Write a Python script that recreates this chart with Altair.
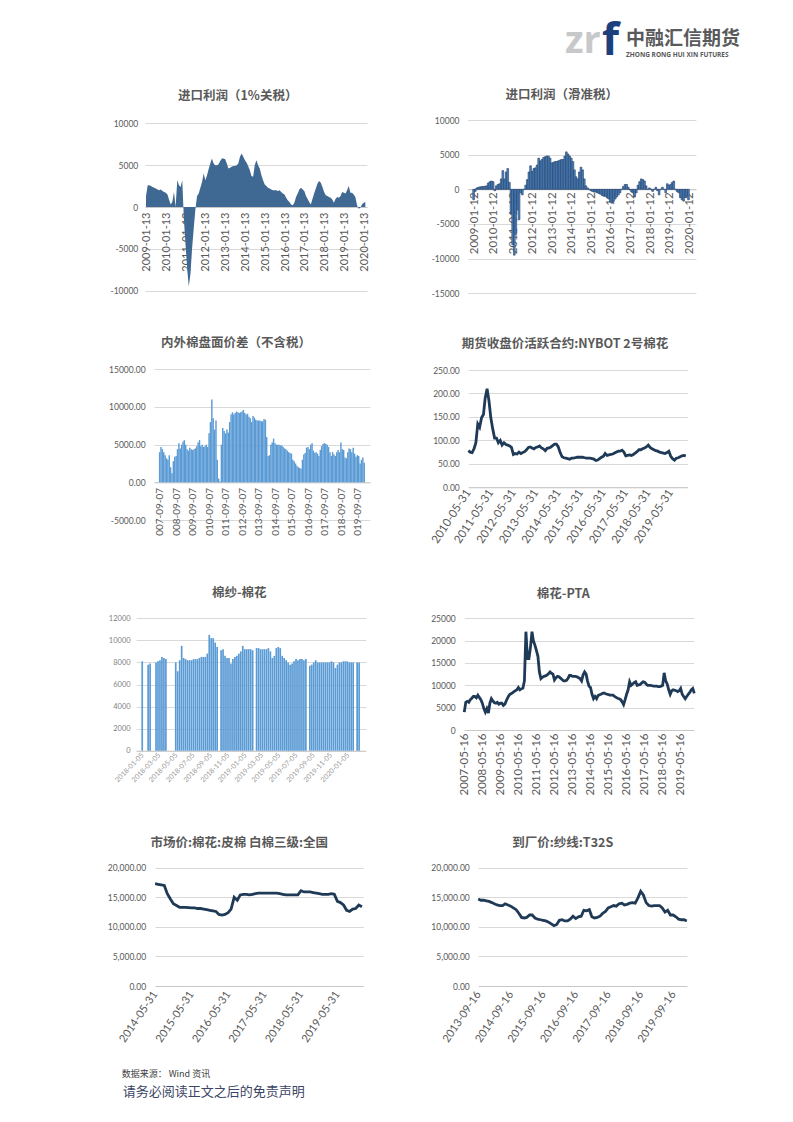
import altair as alt
import pandas as pd

NUM_FONT = "Lato"
CJK_FONT = "Noto Sans CJK SC"
LABEL_COLOR = "#595959"
GRID_COLOR = "#d9d9d9"
TITLE_COLOR = "#595959"

# ---------------- data ----------------
# 进口利润（1%关税）, monthly from 2009-01
P1_VALUES = [1300, 2600, 2600, 2500, 2400, 2300, 2200, 2100, 2000, 2100, 1900, 1800,
             1700, 1500, 900, 300, 600, 1800, 0, 3200, 2600, 2400, 3200, -1500,
             -4500, -7500, -9500, -8000, -5000, -2500, -300, 1300, 1600, 2300, 3000, 4000,
             3200, 3800, 4500, 5200, 5800, 5200, 5000, 5000, 5100, 5500, 5800, 5800,
             5700, 5200, 4600, 4700, 4800, 4900, 4900, 5000, 5200, 6000, 6400, 6000,
             5600, 5300, 4900, 4400, 3700, 3600, 5000, 5600, 5000, 4600, 3800, 3200,
             2700, 2500, 2300, 2200, 2100, 2000, 2000, 2000, 1900, 2000, 1800, 1600,
             1500, 1100, 800, 600, 300, 200, 500, 1200, 1600, 2100, 2300, 2100,
             1900, 1300, 1000, 600, 300, 1000, 1600, 2200, 2800, 3100, 2900, 2400,
             1800, 1400, 1300, 1200, 1100, 900, 500, 1000, 1200, 1100, 1300, 1800,
             1700, 1600, 2000, 2500, 1700, 1700, 1500, 1200, 200, -200, -100, 300,
             500, 600]
# 进口利润（滑准税）, monthly from 2009-01
P2_VALUES = [-1500, -300, 200, 300, 350, 400, 400, 450, 500, 900, 1100, 1200,
             1100, -200, 500, 700, 800, 1500, 2700, 1500, 2500, 3000, 1000, -3500,
             -8000, -9500, -6500, -3000, -4400, -500, -800, 0, 600, 1400, 2500, 3400,
             2600, 3000, 3100, 3500, 4500, 4100, 4300, 4600, 4700, 4800, 4800, 4500,
             3800, 3900, 4000, 4000, 4100, 4200, 4300, 4300, 4800, 5400, 5100, 4800,
             4500, 4000, 2800, 1800, 1500, 2500, 3200, 2800, 1500, 500, 200, 0,
             -200, -300, -400, -400, -500, -600, -700, -900, -1000, -1000, -1200, -1400,
             -1800, -2000, -1700, -1400, -1100, -800, -500, 0, 400, 700, 700, 300,
             -100, -400, -500, -1100, -500, 600, 1100, 1500, 1400, 1200, 500, 0,
             200, 0, -300, 0, 300, -200, -800, 0, 300, 0, -500, 800,
             600, 700, 1000, 1200, 0, -300, -500, -1200, -1500, -1700, -1200, -1000,
             -1500]
# 内外棉盘面价差（不含税）, monthly from 2007-09
P3_VALUES = [4000, 4700, 4400, 4000, 3600, 3200, 3000, 3600, 2000, 1200, 2800, 3400,
             3500, 4400, 5200, 4500, 5000, 5400, 5600, 5000, 4400, 4200, 4600, 4400,
             4300, 4400, 4500, 4800, 5300, 5600, 4800, 5000, 4700, 4800, 5000, 4700,
             6500, 8000, 11000, 8500, 7000, 8200, 3000, 500, 100, 5000, 7200, 6800,
             6500, 7000, 6600, 8000, 9000, 9300, 9000, 9200, 9400, 9300, 9200, 9300,
             9400, 9600, 9200, 9000, 9100, 8700, 8500, 8000, 8800, 8600, 8300, 8200,
             8200, 8200, 8100, 8100, 8400, 8300, 6000, 3500, 3600, 5000, 5300, 5800,
             5200, 5000, 5000, 5000, 4900, 4900, 4700, 4500, 4400, 4200, 4000, 3900,
             3800, 3000, 2800, 2500, 2200, 2000, 1900, 1800, 3000, 3700, 3900, 4600,
             4700, 4400, 5000, 5200, 4200, 3900, 4000, 3800, 3500, 4300, 4800, 5100,
             5200, 5100, 5000, 4700, 4000, 3500, 4000, 3700, 3500, 4000, 4300, 4000,
             5300, 4400, 4300, 3300, 3200, 4000, 4500, 4400, 4000, 4600, 3800, 3400,
             3600, 3500, 2500, 3000, 3300, 2600]
# 期货收盘价活跃合约:NYBOT 2号棉花, monthly from 2010-06
P4_VALUES = [78, 75, 74, 82, 95, 135, 128, 148, 155, 190, 210, 185,
             148, 125, 105, 105, 95, 100, 90, 95, 91, 90, 88, 85,
             70, 72, 71, 75, 72, 74, 76, 80, 85, 86, 84, 82,
             85, 86, 88, 84, 82, 78, 83, 84, 86, 89, 92, 92,
             86, 74, 65, 63, 62, 61, 60, 62, 62, 63, 64, 64,
             64, 64, 63, 62, 62, 62, 61, 60, 57, 58, 61, 64,
             66, 72, 68, 69, 70, 71, 73, 75, 77, 77, 79, 75,
             67, 68, 69, 68, 70, 73, 76, 80, 80, 82, 84, 86,
             90, 85, 82, 80, 78, 77, 75, 74, 73, 72, 74, 77,
             66, 61, 58, 62, 63, 65, 67, 68, 67]
# 棉纱-棉花, weekly from 2018-01-05 (None = no data)
P5_VALUES = [8100, None, None, 7800, 7900, None, None, 8000, 8100, 8200, 8500, 8400,
             8300, None, None, None, None, 8000, 7200, 8200, 9500, 8400, 8300, 8200,
             8200, 8200, 8300, 8300, 8300, 8400, 8500, 8500, 8500, 8800, 10500, 10200,
             10200, 9800, 9400, None, 9100, 9200, 8600, 8400, 8400, 7900, 8300, 8500,
             8600, 8800, 9000, 9500, 9200, 9200, 9200, 9200, 9100, None, 9300, 9300,
             9200, 9200, 9200, 9200, 9300, 9000, 8400, 8600, 9300, 9400, 9300, 8600,
             8400, 8200, 8000, 7800, 7900, 8100, 8300, 8200, 8300, 8300, 8200, 8300,
             None, 7700, 7800, 8000, 8200, 8000, 8000, 8000, 8000, 8000, 8000, 8000,
             8100, 8000, 7500, 7800, 8000, 8000, 8100, 8100, 8100, 8000, 8000, 8000,
             None, 8000, 8000]
# 棉花-PTA, monthly from 2007-05-15
P6_VALUES = [4000, 6200, 6400, 6200, 6800, 7100, 7500, 7500, 7200, 7800, 7300, 6800,
             6000, 4800, 4000, 4800, 3800, 6000, 7000, 6500, 6100, 6000, 6200, 5800,
             6000, 6000, 5500, 5800, 6600, 7300, 7900, 8100, 8300, 8600, 8800, 9000,
             9500, 9000, 9200, 9400, 11000, 22000, 16000, 16000, 18500, 22000, 20000, 19000,
             17800, 16500, 13000, 11500, 11800, 12000, 12100, 12300, 12600, 13000, 12700, 12500,
             11200, 11700, 12000, 11900, 11600, 11300, 11000, 11000, 11100, 11600, 12200, 12200,
             12000, 12000, 12000, 11900, 11700, 11500, 11000, 12300, 13000, 12500, 11000, 9800,
             9500, 8000, 7000, 7500, 7000, 7700, 7900, 8000, 8200, 8300, 8100, 8000,
             7900, 7800, 7800, 7800, 7500, 7300, 7100, 7000, 6800, 6300, 5700, 6800,
             8000, 9000, 10800, 10000, 10300, 10600, 10800, 10000, 10100, 10200, 10500, 10800,
             10700, 10300, 10000, 10000, 10000, 9900, 9800, 9800, 9800, 9700, 9700, 9800,
             10000, 12800, 11000, 10300, 9000, 8000, 8800, 9000, 8900, 8800, 8600, 8800,
             9300, 8000, 7500, 7000, 7500, 8000, 8400, 9000, 9300, 8200]
# 市场价:棉花:皮棉 白棉三级:全国, monthly from 2014-06
P7_VALUES = [17300, 17200, 17100, 17000, 15600, 14700, 13900, 13600, 13300, 13300, 13300, 13250,
             13200, 13200, 13100, 13100, 13000, 12900, 12800, 12700, 12600, 12100, 12000, 12100,
             12400, 13000, 15000, 14500, 15400, 15500, 15500, 15400, 15500, 15600, 15700, 15700,
             15700, 15700, 15700, 15700, 15700, 15600, 15500, 15400, 15400, 15400, 15400, 15400,
             16100, 15900, 15900, 15900, 15800, 15700, 15600, 15500, 15500, 15500, 15600, 15500,
             14300, 14100, 13700, 12800, 12600, 13000, 13100, 13700, 13400]
# 到厂价:纱线:T32S, monthly from 2013-09-15
P8_VALUES = [14700, 14500, 14500, 14400, 14300, 14100, 13900, 13700, 13600, 13600, 13900, 13700,
             13500, 13200, 12900, 12300, 11600, 11500, 11600, 12000, 12000, 11500, 11300, 11200,
             11100, 11000, 10800, 10500, 10200, 10400, 11100, 11200, 11000, 11000, 11300, 11800,
             11400, 11700, 11800, 12800, 12700, 12900, 11700, 11500, 11600, 11800, 12300, 12600,
             13200, 13400, 13600, 13500, 13900, 14000, 13700, 13800, 14000, 14100, 14000, 14900,
             16000, 15400, 14100, 13600, 13500, 13600, 13600, 13600, 13200, 12500, 12800, 12000,
             12000, 11700, 11300, 11200, 11200, 11000]

TITLES = ["进口利润（1%关税）", "进口利润（滑准税）", "内外棉盘面价差（不含税）",
          "期货收盘价活跃合约:NYBOT 2号棉花", "棉纱-棉花", "棉花-PTA",
          "市场价:棉花:皮棉 白棉三级:全国", "到厂价:纱线:T32S"]


def monthly(start, n, shift_days=0):
    d = pd.date_range(start, periods=n, freq="MS")
    if shift_days:
        d = d + pd.Timedelta(days=shift_days)
    return d


def DT(y, m, d):
    return alt.DateTime(year=y, month=m, date=d)


def zero_px(dom, rng):
    return rng[0] + (0 - dom[0]) / (dom[1] - dom[0]) * (rng[1] - rng[0])


NEG_D = "(datum.value < 0 ? '-' : '') + format(abs(datum.value), 'd')"
NEG_2F = "(datum.value < 0 ? '-' : '') + format(abs(datum.value), '.2f')"
COMMA_2F = "format(datum.value, ',.2f')"


def xenc(dom, rng, vals, angle, fs, pad, offset, color=LABEL_COLOR, expr=None):
    ax = dict(values=vals, format="%Y-%m-%d", formatType="time", labelAngle=angle,
              labelAlign="right", labelBaseline="middle", labelFontSize=fs,
              labelFont=NUM_FONT, labelColor=color, labelPadding=pad, offset=offset,
              grid=False, domain=True, domainColor="#c8c8c8", domainWidth=1,
              ticks=False, labelOverlap=False, labelFlush=False, title=None)
    if expr:
        ax["labelExpr"] = expr
    return alt.X("date:T", scale=alt.Scale(domain=dom, range=rng, nice=False),
                 axis=alt.Axis(**ax))


def yenc(dom, rng, vals, expr, fs, pad, offset, color=LABEL_COLOR):
    return alt.Y("v:Q", scale=alt.Scale(domain=dom, range=rng, nice=False, zero=False),
                 axis=alt.Axis(values=vals, labelExpr=expr, labelFontSize=fs,
                               labelFont=NUM_FONT, labelColor=color, labelPadding=pad,
                               offset=offset, grid=True, gridColor=GRID_COLOR, gridWidth=1,
                               domain=False, ticks=False, labelOverlap=False, title=None))


def text_layer(text, x, y, size, color, weight="bold", font=CJK_FONT, align="center",
               baseline="middle"):
    df = pd.DataFrame({"t": [text]})
    return alt.Chart(df).mark_text(font=font, fontSize=size, color=color, fontWeight=weight,
                                   align=align, baseline=baseline).encode(
        text="t:N", x=alt.value(x), y=alt.value(y))


CW = 325
H1, H2, H3, H4 = 310, 250, 250, 285
LINE_COLOR = "#1f3a56"

# ---------- panel 1 ----------
df1 = pd.DataFrame({"date": monthly("2009-01-01", len(P1_VALUES)), "v": P1_VALUES})
xd1, xr1 = [DT(2008, 12, 15), DT(2020, 3, 1)], [45.1, 266.9]
yd1, yr1 = [-10000, 10000], [280.7, 113.3]
m1 = alt.Chart(df1).mark_area(color="#3f6893").encode(
    x=xenc(xd1, xr1, [DT(y, 1, 13) for y in range(2009, 2021)], -90, 11, 5,
           zero_px(yd1, yr1) - H1),
    y=yenc(yd1, yr1, [-10000, -5000, 0, 5000, 10000], NEG_D, 8.5, 7.3, -xr1[0]),
    y2=alt.datum(0))
p1 = alt.layer(m1, text_layer(TITLES[0], 137.7, 85.7, 12.5, TITLE_COLOR)).properties(
    width=CW, height=H1)

# ---------- panel 2 ----------
df2 = pd.DataFrame({"date": monthly("2009-01-01", len(P2_VALUES)), "v": P2_VALUES})
xd2, xr2 = [DT(2008, 12, 15), DT(2020, 2, 15)], [42.7, 270.9]
yd2, yr2 = [-15000, 10000], [283.3, 110]
m2 = alt.Chart(df2).mark_bar(size=1.7, color="#4f86c6", stroke="#1f3a5f",
                             strokeWidth=0.6).encode(
    x=xenc(xd2, xr2, [DT(y, 1, 12) for y in range(2009, 2021)], -90, 11.5, 2.5,
           zero_px(yd2, yr2) - H1),
    y=yenc(yd2, yr2, [-15000, -10000, -5000, 0, 5000, 10000], NEG_D, 8.5, 8.7, -xr2[0]),
    y2=alt.datum(0))
p2 = alt.layer(
    m2,
    text_layer(TITLES[1], 136.7, 85, 12.5, TITLE_COLOR),
    text_layer("zr", 140, 43, 38, "#c7c8ca", font="Open Sans", align="left",
               baseline="alphabetic"),
    text_layer("f", 177, 45, 44, "#1c3f7e", font="Open Sans", align="left",
               baseline="alphabetic"),
    text_layer("中融汇信期货", 201, 28.5, 19, "#595a5c", align="left"),
    text_layer("ZHONG RONG HUI XIN FUTURES", 201, 45, 6.5, "#595a5c",
               font="Open Sans", align="left"),
).properties(width=CW, height=H1)

# ---------- panel 3 ----------
df3 = pd.DataFrame({"date": monthly("2007-09-01", len(P3_VALUES)), "v": P3_VALUES})
xd3, xr3 = [DT(2007, 8, 20), DT(2020, 2, 15)], [54.1, 269.9]
yd3, yr3 = [-5000, 15000], [200, 49.3]
m3 = alt.Chart(df3).mark_bar(size=1.45, color="#5b9bd5").encode(
    x=xenc(xd3, xr3, [DT(y, 9, 7) for y in range(2007, 2020)], -90, 10, 5,
           zero_px(yd3, yr3) - H2,
           expr="substring(timeFormat(datum.value, '%Y-%m-%d'), 1)"),
    y=yenc(yd3, yr3, [-5000, 0, 5000, 10000, 15000], NEG_2F, 8.5, 9, -xr3[0]),
    y2=alt.datum(0))
p3 = alt.layer(m3, text_layer(TITLES[2], 136, 23.3, 12.5, TITLE_COLOR)).properties(
    width=CW, height=H2)

# ---------- panel 4 ----------
df4 = pd.DataFrame({"date": monthly("2010-06-01", len(P4_VALUES)), "v": P4_VALUES})
xd4, xr4 = [DT(2010, 5, 31), DT(2020, 3, 1)], [43.3, 262.6]
yd4, yr4 = [0, 250], [167.3, 50]
m4 = alt.Chart(df4).mark_line(color=LINE_COLOR, strokeWidth=2.8).encode(
    x=xenc(xd4, xr4, [DT(y, 5, 31) for y in range(2010, 2020)], -57, 11.5, 3,
           zero_px(yd4, yr4) - H2),
    y=yenc(yd4, yr4, [0, 50, 100, 150, 200, 250], NEG_2F, 8.5, 9, -xr4[0]))
p4 = alt.layer(m4, text_layer(TITLES[3], 140, 24, 12.5, TITLE_COLOR)).properties(
    width=CW, height=H2)

# ---------- panel 5 ----------
df5 = pd.DataFrame({"date": pd.date_range("2018-01-05", periods=len(P5_VALUES), freq="7D"),
                    "v": P5_VALUES})
xd5, xr5 = [DT(2018, 1, 1), DT(2020, 2, 20)], [36.1, 265.8]
yd5, yr5 = [0, 12000], [180.7, 48.3]
p5_ticks = [DT(2018, m, 5) for m in (1, 3, 5, 7, 9, 11)] + \
           [DT(2019, m, 5) for m in (1, 3, 5, 7, 9, 11)] + [DT(2020, 1, 5)]
m5 = alt.Chart(df5).mark_bar(size=1.7, color="#5b9bd5").encode(
    x=xenc(xd5, xr5, p5_ticks, -46, 7, 3, zero_px(yd5, yr5) - H3, color="#9a9a9a"),
    y=yenc(yd5, yr5, [0, 2000, 4000, 6000, 8000, 10000, 12000], NEG_D, 7.5, 6, -xr5[0],
           color="#7f7f7f"),
    y2=alt.datum(0))
p5 = alt.layer(m5, text_layer(TITLES[4], 139.3, 23.3, 12.5, TITLE_COLOR)).properties(
    width=CW, height=H3)

# ---------- panel 6 ----------
df6 = pd.DataFrame({"date": monthly("2007-05-01", len(P6_VALUES), 14), "v": P6_VALUES})
xd6, xr6 = [DT(2007, 5, 16), DT(2020, 2, 1)], [39.3, 268.6]
yd6, yr6 = [0, 25000], [160, 48.3]
m6 = alt.Chart(df6).mark_line(color=LINE_COLOR, strokeWidth=2.8).encode(
    x=xenc(xd6, xr6, [DT(y, 5, 16) for y in range(2007, 2020)], -90, 11.5, 3,
           zero_px(yd6, yr6) - H3),
    y=yenc(yd6, yr6, [0, 5000, 10000, 15000, 20000, 25000], NEG_D, 8.5, 9, -xr6[0]))
p6 = alt.layer(m6, text_layer(TITLES[5], 138.3, 24, 12.5, TITLE_COLOR)).properties(
    width=CW, height=H3)

# ---------- panel 7 ----------
df7 = pd.DataFrame({"date": monthly("2014-06-01", len(P7_VALUES)), "v": P7_VALUES})
xd7, xr7 = [DT(2014, 5, 31), DT(2020, 2, 15)], [55, 263.3]
yd7, yr7 = [0, 20000], [166, 47.7]
m7 = alt.Chart(df7).mark_line(color=LINE_COLOR, strokeWidth=2.8).encode(
    x=xenc(xd7, xr7, [DT(y, 5, 31) for y in range(2014, 2020)], -56, 11, 6,
           zero_px(yd7, yr7) - H4),
    y=yenc(yd7, yr7, [0, 5000, 10000, 15000, 20000], COMMA_2F, 8.5, 9.3, -xr7[0]))
p7 = alt.layer(
    m7,
    text_layer(TITLES[6], 139.3, 23.3, 12.5, TITLE_COLOR),
    text_layer("数据来源： Wind 资讯", 21.7, 254, 9, "#404040", weight="normal",
               align="left"),
    text_layer("请务必阅读正文之后的免责声明", 22.7, 272, 13, "#3c4565",
               weight="normal", align="left"),
).properties(width=CW, height=H4)

# ---------- panel 8 ----------
df8 = pd.DataFrame({"date": monthly("2013-09-01", len(P8_VALUES), 14), "v": P8_VALUES})
xd8, xr8 = [DT(2013, 9, 16), DT(2020, 2, 15)], [53.3, 261.8]
yd8, yr8 = [0, 20000], [166, 47.7]
m8 = alt.Chart(df8).mark_line(color=LINE_COLOR, strokeWidth=2.8).encode(
    x=xenc(xd8, xr8, [DT(y, 9, 16) for y in range(2013, 2020)], -56, 11, 6,
           zero_px(yd8, yr8) - H4),
    y=yenc(yd8, yr8, [0, 5000, 10000, 15000, 20000], COMMA_2F, 8.5, 9, -xr8[0]))
p8 = alt.layer(m8, text_layer(TITLES[7], 137.7, 23.3, 12.5, TITLE_COLOR)).properties(
    width=CW, height=H4)

chart = alt.concat(p1, p2, p3, p4, p5, p6, p7, p8, columns=2, spacing=0,
                   bounds="flush", align="each").properties(
    padding={"left": 92, "top": 2, "right": 0, "bottom": 0},
    background="white",
).configure_view(strokeWidth=0)

chart.save("out.html", embed_options={"renderer": "svg", "actions": False})
